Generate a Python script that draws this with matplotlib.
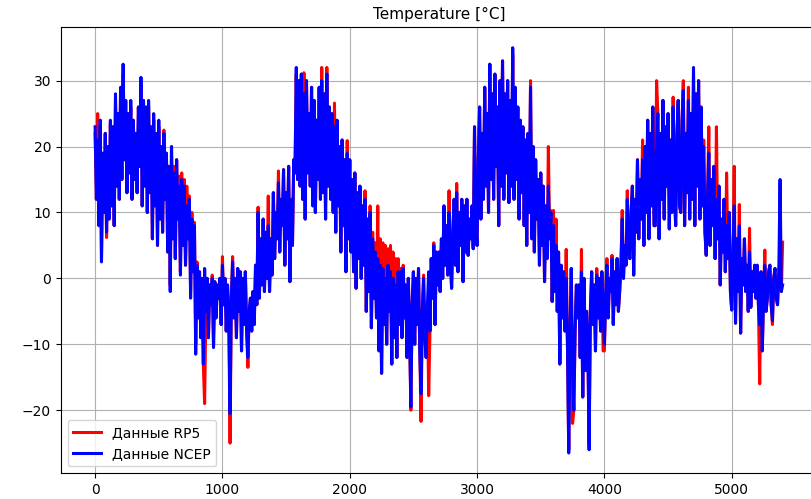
import matplotlib
matplotlib.use("Agg")
import matplotlib.pyplot as plt
import numpy as np

# sample spacing of the hand-read series (index units)
STEP = 10

# NCEP temperature, every 10 samples (20 values per row = 200 samples)
ncep_temp = [
    23, 12, 21, 8, 24, 2.5, 19, 10, 22, 7, 20, 9, 24, 11, 23, 8, 28, 14, 25, 12,
    29, 15, 32.5, 18, 27, 13, 25, 16, 27, 12, 24, 15, 22, 13, 26, 17, 30.5, 11, 27, 14,
    26, 10, 27, 13, 23, 6, 25, 11, 22, 5, 24, 9, 20, 7, 22, 12, 19, 4, 17, -2,
    20, 6, 16, 3, 18, 9, 14, 0.5, 15, 5, 14, 2, 11, 6, 12, -3, 9, 1, 8, -11.5,
    2, -6, 1, -9, 0, -13, 1.5, -5, 0, -9, -1, -4, 0, -10.5, -0.5, -6, -1, -3, 0, -7,
    2, -4, 0, -8, -1, -6, -20.5, -3, 2.5, -6, 0, -9, 1.5, -5, 1, -11, 0, -7, 1, -8,
    -12, -5, -3, -8, -2, -7, 2, -4, 10, -3, 6, -1, 9, -2, 7, 0, 8, -2, 6, 0.5,
    13, 3, 10, 6, 14.5, 4, 12, 8, 16.5, 2, 13, 6, 17, -0.5, 12, 5, 18, 16, 32, 15,
    30, 14, 31, 12, 28, 9, 30, 16, 25, 14, 29, 11, 27, 10, 24, 15, 29, 12, 30, 13,
    28, 9, 31, 14, 26, 12, 25, 10, 23, 7, 24, 11, 20, 4, 21, 8, 18, 1, 19, 6,
    18, 4, 15, 1, 16, -1.5, 13, 3, 14, 0, 11, 2, 12, -5, 9, -2, 10, -7.5, 6, -3,
    4, -6, 3, -11, 2, -14.4, 1.5, -7, 0, -10, 2, -5, 1, -13, 0, -9, -1, -12, 1, -7,
    1, -9, 1.5, -6, -1, -12, 0, -8, -19.5, -4, 1, -10, 0, -7, 1.5, -11, -17.5, -5, 0, -9,
    -12, -4, 1, -8, 3, -3, 5, -7, 4, -1, 4, -2, 6, 0, 11, 2, 8, 0.5, 10, 3,
    -1.5, 7, 12, 2, 13, 1, 10, 5, 12, -0.5, 11, 4, 12, 3.5, 9, 6, 11, 4.5, 23, 8,
    5, 18, 26, 9, 22, 12, 29, 14, 25, 10, 32.5, 15, 28, 12, 31, 17, 26, 8, 30, 14,
    33, 12, 28, 16, 30, 11.5, 27, 14, 35, 12, 29, 15, 26, 9, 24, 13, 23, 8, 21, 5,
    22, 10, 29, 6, 20, 4, 18, 9, 15, 2, 16, 5, 14, -0.5, 11, 3, 14, 6, 10, -3.5,
    8, -2, 5, -5, 4, -13, 2, -6, 1, -8, 0, -10, -26.5, -9, 1.5, -14, -20, -8, -1, -6,
    -1, -12, 1, -18, 0, -14, -5, -10, -26, -5, 1, -7, -1, -11, 0.5, -6, 0, -8, 1, -4,
    -10, -3, 2, -6, 0, -2, 3, -7, 1, -4, 3, -5, -2, 2, 9, 0, 5, 2, 12, 4,
    3, 10, 14, 0.5, 12, 7, 18, 6, 15, 9, 18, 5, 20, 10, 24, 6, 22, 11, 26, 8,
    8, 20, 25, 6, 22, 12, 27, 9, 23, 14, 25, 7.5, 21, 10, 26, 13, 8, 22, 27, 11,
    10, 24, 28.5, 8, 22, 13, 27, 9, 25, 12, 32, 8, 28, 14, 30, 9, 26, 11, 20, 7,
    3.5, 12, 19, 5, 15, 8, 17, 3, 12, 6, 14, -1, 9, 4, 12, 1, 8, 3, 10, -2,
    -4.8, 4, 11, -6.8, 6, -2, 8, -8.3, 3, -1, 6, -2, 2, -5, 4, -4.4, 1, -2, 2, -3,
    2, -4, -7, 1, -11, -3, 2, -5, -3, 1, 2, -4, -6.4, 0, 1.5, -3, -4, 1, 15, -2,
    -1,
]

# RP5 station temperature, same sampling
rp5_temp = [
    22, 12, 25, 8, 24, 3, 19, 10, 22, 6.2, 20, 9, 23.5, 11, 23, 8, 27, 14, 25, 12,
    28, 15, 31, 18, 27, 13, 25, 16, 26, 12, 24, 15, 22, 13, 26, 17, 29.5, 11, 27, 14,
    26, 10, 26, 13, 23, 6, 24, 11, 22, 5, 23, 9, 20, 7, 22.5, 12, 19, 4, 17, -1,
    20, 6, 17, 3, 18, 9, 15.5, 1, 16, 5, 15, 2, 14, 6, 12.5, -2, 10, 1, 8.5, -10,
    2.5, -6, 1, -9, 0, -13, -19, -5, 0, -9, -1, -4, 0.5, -10, -0.5, -6, -1, -3, 0, -7,
    3.3, -4, 0, -8, -1, -6, -25, -3, 3.3, -6, 0, -9, 1.5, -5, 1, -11, 0, -7, 1, -8,
    -13.5, -5, -3, -8, -2, -7, 2, -4, 10.8, -3, 6, -1, 9, -2, 7, 0, 12.5, -2, 6, 0.5,
    13, 3, 10, 6, 16.3, 4, 12, 8, 16.5, 2, 13, 6, 17, -0.5, 12, 5, 18, 16, 31, 15,
    30, 14, 31, 12, 31.2, 9, 30, 16, 25, 14, 29, 11, 27, 10, 24, 15, 29, 12, 32, 13,
    28, 9, 32, 14, 26, 12, 25, 10, 26.6, 7, 24, 11, 20, 4, 21, 8, 18, 1, 20.9, 6,
    18, 4, 15, 1, 16, -1.5, 13, 3, 14, 0, 11, 2, 13.3, -5, 9, -2, 11, -7.5, 7, -3,
    5.4, -6, 11, -11, 6, -14.4, 5.4, -7, 5, -10, 4.5, -5, 5, -13, 4, -9, 3, -12, 3, -7,
    1.5, -9, 2, -6, -1, -12, 0, -8, -20, -4, 1, -10, 0, -7, 1.5, -11, -21.7, -5, 0.5, -9,
    -12, -4, -17.8, -8, 3, -3, 5.4, -7, 4, -1, 4, -2, 6, 0, 11, 2, 8, 0.5, 13.3, 3,
    -1.5, 7, 12, 2, 14.4, 1, 10, 5, 12, -0.5, 11, 4, 12, 3.5, 9, 6, 11, 4.5, 23, 8,
    5, 18, 26, 9, 22, 12, 29, 14, 25, 10, 32.5, 15, 28, 12, 31, 17, 26, 8, 30, 14,
    33, 12, 28, 16, 30, 11.5, 27, 14, 34, 12, 28, 15, 26, 9, 24, 13, 23, 8, 21, 5,
    22, 10, 30, 6, 20, 4, 18, 9, 15, 2, 16, 5, 14, -0.5, 11, 3, 20, 6, 10.3, -3.5,
    10.3, -2, 9, -5, 4, -13, 2, -6, 1, -8, 4.4, -10, -26, -9, 1.5, -22, -20, -8, -1, -6,
    -1, -12, 4.4, -18, 0, -14, -5, -10, -25, -5, 1, -7, -1, -11, 1.5, -6, 0, -8, 1, -11,
    -11, -3, 3, -6, 0, -2, 3.5, -7, 1, -4, 3, -5, -2, 2, 10.3, 0, 5, 2, 13.3, 4,
    3, 10, 14, 0.5, 12, 7, 18, 6, 15, 9, 21, 5, 20, 10, 24, 6, 22, 11, 26, 8,
    8, 30, 25, 6, 22, 12, 27, 9, 23, 14, 25, 7.5, 21, 10, 27.5, 13, 8, 22, 27, 11,
    10, 24, 30, 8, 22, 13, 29, 9, 25, 12, 31, 8, 28, 14, 30, 9, 26, 11, 21, 7,
    3.5, 12, 23, 5, 15, 8, 17, 3, 23, 6, 14, -1, 9, 4, 12, 1, 16, 3, 10, -2,
    -4.8, 4, 17, -6.8, 6, -2, 11.2, -8.3, 3, -1, 6, -2, 2, -5, 7.6, -4.4, 1, -2, 2, -3,
    2, -4, -16, 1, -11, -3, 4.3, -5, -3, 1, 2, -4, -7, 0, 1.5, -3, -4, 1, 3, -2,
    5.5,
]

labels = ["Данные RP5", "Данные NCEP"]

idx = np.arange(len(ncep_temp)) * STEP

fig = plt.figure(figsize=(8.11, 4.99), dpi=100)
ax = fig.add_axes([0.0749, 0.0515, 0.9325, 0.8935])

ax.plot(idx, rp5_temp, color="red", lw=2.2, label=labels[0])
ax.plot(idx, ncep_temp, color="blue", lw=2.2, label=labels[1])

ax.set_title("Temperature [°C]", fontsize=11)
ax.grid(True)
ax.legend(loc="lower left", fontsize=10)

fig.savefig("out.png", dpi=100)
